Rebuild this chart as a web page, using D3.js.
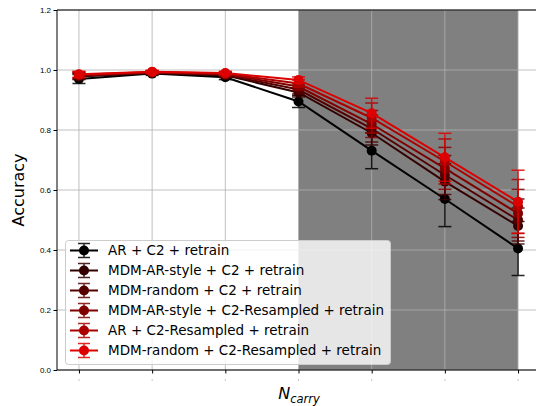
<!DOCTYPE html>
<html>
<head>
<meta charset="utf-8">
<script src="https://cdn.jsdelivr.net/npm/d3@7"></script>
<style>
  body { margin: 0; background: #fff; }
  svg { font-family: "DejaVu Sans", sans-serif; }
</style>
</head>
<body>
<svg width="536" height="406"></svg>
<script>
const width = 536;
const height = 406;

// x positions (no visible tick labels in the original)
const carry = [0, 1, 2, 3, 4, 5, 6];
const yTicks = [0.0, 0.2, 0.4, 0.6, 0.8, 1.0, 1.2];
const shadeRange = [3, 6];

const labels = [
    "AR + C2 + retrain",
    "MDM-AR-style + C2 + retrain",
    "MDM-random + C2 + retrain",
    "MDM-AR-style + C2-Resampled + retrain",
    "AR + C2-Resampled + retrain",
    "MDM-random + C2-Resampled + retrain"
];
const colors = ["#000000", "#330000", "#550000", "#800000", "#aa0000", "#dd0000"];

const accAR        = [0.970, 0.988, 0.976, 0.895, 0.731, 0.570, 0.405];
const accMdmArSty  = [0.978, 0.990, 0.982, 0.925, 0.790, 0.628, 0.480];
const accMdmRand   = [0.980, 0.991, 0.984, 0.935, 0.805, 0.650, 0.500];
const accMdmArRs   = [0.982, 0.992, 0.986, 0.945, 0.820, 0.672, 0.522];
const accArRs      = [0.984, 0.993, 0.988, 0.955, 0.840, 0.695, 0.545];
const accMdmRandRs = [0.986, 0.994, 0.990, 0.967, 0.856, 0.709, 0.561];

const errAR        = [0.015, 0.006, 0.008, 0.020, 0.060, 0.092, 0.090];
const errMdmArSty  = [0.010, 0.005, 0.007, 0.015, 0.040, 0.060, 0.060];
const errMdmRand   = [0.010, 0.005, 0.007, 0.015, 0.045, 0.065, 0.070];
const errMdmArRs   = [0.010, 0.005, 0.006, 0.012, 0.045, 0.070, 0.080];
const errArRs      = [0.010, 0.005, 0.006, 0.012, 0.050, 0.075, 0.090];
const errMdmRandRs = [0.010, 0.005, 0.006, 0.010, 0.050, 0.080, 0.105];

const accs = [accAR, accMdmArSty, accMdmRand, accMdmArRs, accArRs, accMdmRandRs];
const errs = [errAR, errMdmArSty, errMdmRand, errMdmArRs, errArRs, errMdmRandRs];

const svg = d3.select("svg");

// scales
const xScale = d3.scaleLinear()
    .domain([-0.3, 6.3])
    .range([57, 540]);

const yScale = d3.scaleLinear()
    .domain([0, 1.2])
    .range([370, 10]);

// shaded region
svg.append("rect")
    .attr("x", xScale(shadeRange[0]))
    .attr("y", yScale(1.2))
    .attr("width", xScale(shadeRange[1]) - xScale(shadeRange[0]))
    .attr("height", yScale(0) - yScale(1.2))
    .attr("fill", "#808080");

// grid
svg.append("g")
    .selectAll("line")
    .data(carry)
    .join("line")
    .attr("x1", d => xScale(d)).attr("x2", d => xScale(d))
    .attr("y1", yScale(0)).attr("y2", yScale(1.2))
    .attr("stroke", "#b0b0b0").attr("stroke-width", 0.8);

svg.append("g")
    .selectAll("line")
    .data(yTicks)
    .join("line")
    .attr("x1", xScale(-0.3)).attr("x2", width)
    .attr("y1", d => yScale(d)).attr("y2", d => yScale(d))
    .attr("stroke", "#b0b0b0").attr("stroke-width", 0.8);

// series
const line = d3.line()
    .x((d, i) => xScale(carry[i]))
    .y(d => yScale(d));

accs.forEach((acc, s) => {
    const g = svg.append("g");
    const col = colors[s];

    g.append("path")
        .datum(acc)
        .attr("d", line)
        .attr("fill", "none")
        .attr("stroke", col)
        .attr("stroke-width", 2);

    const eb = g.append("g").attr("stroke", col).attr("stroke-width", 1.5).attr("opacity", 0.85);
    acc.forEach((v, i) => {
        const x = xScale(carry[i]);
        const y1 = yScale(v - errs[s][i]);
        const y2 = yScale(v + errs[s][i]);
        eb.append("line").attr("x1", x).attr("x2", x).attr("y1", y1).attr("y2", y2);
        eb.append("line").attr("x1", x - 6.5).attr("x2", x + 6.5).attr("y1", y1).attr("y2", y1);
        eb.append("line").attr("x1", x - 6.5).attr("x2", x + 6.5).attr("y1", y2).attr("y2", y2);
    });

    g.selectAll("circle")
        .data(acc)
        .join("circle")
        .attr("cx", (d, i) => xScale(carry[i]))
        .attr("cy", d => yScale(d))
        .attr("r", 5)
        .attr("fill", col);
});

// x axis
const xAxis = d3.axisBottom(xScale)
    .tickValues(carry)
    .tickSize(3.5)
    .tickFormat("");

const gx = svg.append("g")
    .attr("transform", `translate(0, ${yScale(0)})`)
    .call(xAxis);
gx.select(".domain").attr("d", `M${xScale(-0.3)},0H${width}`).attr("stroke-width", 1);

// tiny tick labels
svg.append("g")
    .selectAll("rect")
    .data(carry)
    .join("rect")
    .attr("x", d => xScale(d) - 0.5)
    .attr("y", 379)
    .attr("width", 1)
    .attr("height", 2)
    .attr("fill", "#c8c8c8");

// y axis
const yAxis = d3.axisLeft(yScale)
    .tickValues(yTicks)
    .tickSize(3.5)
    .tickFormat(d3.format(".1f"));

const gy = svg.append("g")
    .attr("transform", `translate(${xScale(-0.3)},0)`)
    .call(yAxis);
gy.select(".domain").attr("d", `M0,${yScale(0)}V${yScale(1.2)}`);
gy.selectAll("text").attr("font-size", "8px").attr("fill", "#000").attr("x", -6);

// top spine
svg.append("line")
    .attr("x1", xScale(-0.3)).attr("x2", width)
    .attr("y1", yScale(1.2)).attr("y2", yScale(1.2))
    .attr("stroke", "#000").attr("stroke-width", 1);

// y label
svg.append("text")
    .attr("transform", "rotate(-90)")
    .attr("x", -190)
    .attr("y", 24)
    .attr("text-anchor", "middle")
    .attr("font-size", "16px")
    .text("Accuracy");

// x label
const xl = svg.append("text")
    .attr("x", 299)
    .attr("y", 399)
    .attr("text-anchor", "middle")
    .attr("font-size", "16px")
    .attr("font-style", "italic");
xl.append("tspan").text("N");
xl.append("tspan").attr("dy", 4).attr("font-size", "11.5px").text("carry");

// legend
const legend = svg.append("g");
legend.append("rect")
    .attr("x", 65.5).attr("y", 240.5)
    .attr("width", 325).attr("height", 124)
    .attr("rx", 3)
    .attr("fill", "#fff").attr("fill-opacity", 0.8)
    .attr("stroke", "#cccccc").attr("stroke-width", 1);

labels.forEach((lab, s) => {
    const y = 250.5 + s * 20;
    const col = colors[s];
    const item = legend.append("g");
    item.append("line").attr("x1", 70).attr("x2", 98).attr("y1", y).attr("y2", y)
        .attr("stroke", col).attr("stroke-width", 2);
    const e = item.append("g").attr("stroke", col).attr("stroke-width", 1.5).attr("opacity", 0.85);
    e.append("line").attr("x1", 84).attr("x2", 84).attr("y1", y - 7).attr("y2", y + 7);
    e.append("line").attr("x1", 78).attr("x2", 90).attr("y1", y - 7).attr("y2", y - 7);
    e.append("line").attr("x1", 78).attr("x2", 90).attr("y1", y + 7).attr("y2", y + 7);
    item.append("circle").attr("cx", 84).attr("cy", y).attr("r", 5).attr("fill", col);
    item.append("text")
        .attr("x", 108)
        .attr("y", y + 4.5)
        .attr("font-size", "13.5px")
        .attr("fill", "#000")
        .text(lab);
});
</script>
</body>
</html>
